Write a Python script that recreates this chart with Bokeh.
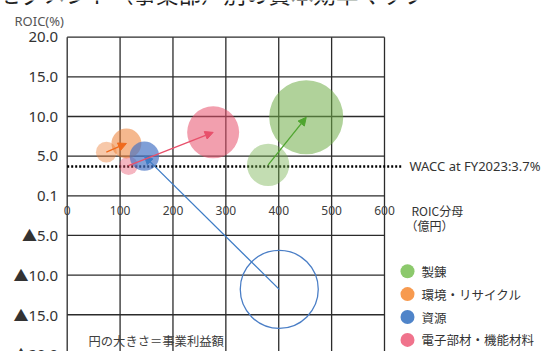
from bokeh.plotting import figure
from bokeh.models import Range1d, Arrow, NormalHead
from bokeh.core.properties import value
from bokeh.embed import file_html
from bokeh.resources import INLINE
import numpy as np

# ---- data -------------------------------------------------------------
segments = ["製錬", "環境・リサイクル", "資源", "電子部材・機能材料"]

# previous fiscal year: invested capital (億円), ROIC (%), business profit (億円)
prev_capital = [380, 74, 401, 116]
prev_roic = [3.9, 5.5, -11.8, 3.8]
prev_profit = [66, 16, -225, 13]

# current fiscal year
cur_capital = [452, 112, 146, 276]
cur_roic = [9.9, 6.6, 5.0, 8.0]
cur_profit = [203, 33, 32, 100]

wacc = 3.7

x_ticks = [0, 100, 200, 300, 400, 500, 600]
x_tick_labels = ["0", "100", "200", "300", "400", "500", "600"]
y_ticks = [20, 15, 10, 5, 0, -5, -10, -15, -20]
y_tick_labels = ["20.0", "15.0", "10.0", "5.0", "0.1", "▲5.0", "▲10.0", "▲15.0", "▲20.0"]

# ---- styling ----------------------------------------------------------
bubble_colors = ["#70ad47", "#ed7d31", "#4472c4", "#e8506b"]
arrow_colors = ["#4fa52f", "#f06a1c", "#3d7cc6", "#e8506b"]
legend_colors = ["#8cc96c", "#f79a4f", "#4f84c9", "#f0738c"]
JP = "Noto Sans CJK JP"
LAT = "Noto Sans, Noto Sans CJK JP"

W, H = 544, 351
# plot area geometry (pixels): x=0 -> X0, x=600 -> X1; y=20 -> Y20
X0, X1 = 66.7, 384.0
XS = (X1 - X0) / 600.0
Y20, YS = 36.7, 7.93


def dx(px):
    """canvas x pixel -> data x"""
    return (px - X0) / XS


def dy(py):
    """canvas y pixel (from top) -> data y"""
    return 20 - (py - Y20) / YS


def bubble_size(profit):
    # diameter in pixels, area proportional to business profit
    return 2 * 2.6 * np.sqrt(np.abs(np.asarray(profit, dtype=float)))


p = figure(width=W, height=H, output_backend="svg", toolbar_location=None,
           x_axis_location=None, y_axis_location=None, min_border=0,
           x_range=Range1d(dx(0), dx(W)), y_range=Range1d(dy(H), dy(0)),
           outline_line_color=None, background_fill_color="white",
           border_fill_color="white")
p.grid.visible = False

# ---- grid / frame -----------------------------------------------------
y_bottom = dy(H)
p.segment(x0=x_ticks, y0=[y_bottom] * len(x_ticks), x1=x_ticks, y1=[20] * len(x_ticks),
          line_color="#2b2b2b", line_width=1.3)
p.segment(x0=[0] * len(y_ticks), y0=y_ticks, x1=[600] * len(y_ticks), y1=y_ticks,
          line_color="#2b2b2b", line_width=1.3)

# WACC line
p.segment(x0=[0], y0=[wacc], x1=[dx(401)], y1=[wacc], line_color="black",
          line_width=2.4, line_dash=value("2 2"))

# ---- bubbles ----------------------------------------------------------
prev_size = bubble_size(prev_profit)
cur_size = bubble_size(cur_profit)
for i in range(len(segments)):
    if prev_profit[i] >= 0:
        p.scatter([prev_capital[i]], [prev_roic[i]], size=prev_size[i],
                  fill_color=bubble_colors[i], fill_alpha=0.42, line_color=None)
    else:
        p.scatter([prev_capital[i]], [prev_roic[i]], size=prev_size[i],
                  fill_color=None, line_color="#4a7ec6", line_width=1.3)
for i in range(len(segments)):
    p.scatter([cur_capital[i]], [cur_roic[i]], size=cur_size[i],
              fill_color=bubble_colors[i], fill_alpha=0.55 if i != 2 else 0.68,
              line_color=None)

# movement arrows (previous -> current)
for i in range(len(segments)):
    c = arrow_colors[i]
    p.add_layout(Arrow(end=NormalHead(size=8, fill_color=c, line_color=c, line_width=1),
                       x_start=prev_capital[i], y_start=prev_roic[i],
                       x_end=cur_capital[i], y_end=cur_roic[i],
                       line_color=c, line_width=1.3))

# ---- tick labels ------------------------------------------------------
p.text(x=[0] * len(y_ticks), y=y_ticks, text=y_tick_labels, x_offset=-9,
       text_align="right", text_baseline="middle", text_font=value(LAT),
       text_font_size="15px", text_color="#333333")
p.text(x=x_ticks, y=[0] * len(x_ticks), text=x_tick_labels, y_offset=15,
       text_align="center", text_baseline="middle", text_font=value(LAT),
       text_font_size="12px", text_color="#404040")

# ---- annotations text -------------------------------------------------
p.text(x=[dx(-2)], y=[dy(8)], text=["セグメント（事業部）別の資本効率マップ"],
       text_align="left", text_baseline="bottom", text_font=value(JP),
       text_font_size="22.5px", text_color="#222222")
p.text(x=[dx(14)], y=[dy(20)], text=["ROIC(%)"], text_align="left",
       text_baseline="middle", text_font=value(LAT), text_font_size="13px",
       text_color="#555555")
p.text(x=[dx(409)], y=[wacc], text=[f"WACC at FY2023:{wacc}%"], text_align="left",
       text_baseline="middle", text_font=value(LAT), text_font_size="13px",
       text_color="#333333")
p.text(x=[dx(411)], y=[dy(210)], text=["ROIC分母"], text_align="left",
       text_baseline="middle", text_font=value(JP), text_font_size="12px",
       text_color="#333333")
p.text(x=[dx(405)], y=[dy(225)], text=["（億円）"], text_align="left",
       text_baseline="middle", text_font=value(JP), text_font_size="12px",
       text_color="#333333")
p.text(x=[dx(88)], y=[dy(340.5)], text=["円の大きさ＝事業利益額"], text_align="left",
       text_baseline="middle", text_font=value(JP), text_font_size="12.3px",
       text_color="#404040")

# ---- legend -----------------------------------------------------------
row_py = [270.7, 293.6, 316.5, 339.4]
p.scatter([dx(407)] * 4, [dy(v) for v in row_py], size=14,
          fill_color=legend_colors, line_color=None)
p.text(x=[dx(421)] * 4, y=[dy(v) for v in row_py], text=segments, text_align="left",
       text_baseline="middle", text_font=value(JP), text_font_size="12.5px",
       text_color="#333333")

open("out.html", "w").write(file_html(p, INLINE))
